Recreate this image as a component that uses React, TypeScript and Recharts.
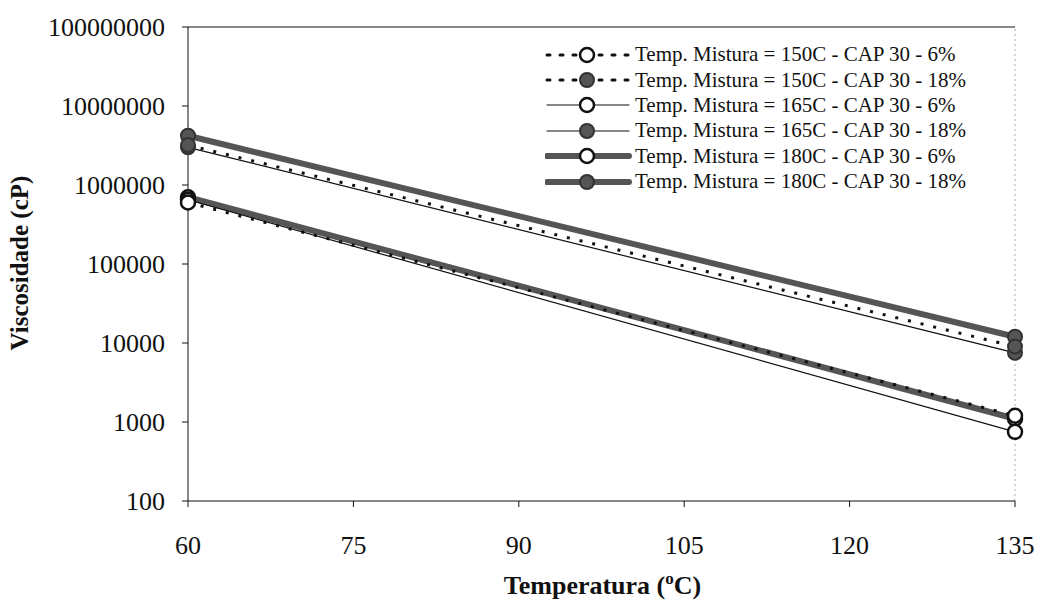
import React from "react";
import {
  Line,
  LineChart,
  ReferenceLine,
  XAxis,
  YAxis,
} from "recharts";

const temperatures = [60, 135];
const mix150cap6 = [600000, 1200];
const mix150cap18 = [3200000, 9000];
const mix165cap6 = [650000, 750];
const mix165cap18 = [3000000, 7500];
const mix180cap6 = [700000, 1100];
const mix180cap18 = [4200000, 12000];

const xTicks = [60, 75, 90, 105, 120, 135];
const yTicks = [100, 1000, 10000, 100000, 1000000, 10000000, 100000000];

const data = temperatures.map((t, i) => ({
  t,
  s1: mix150cap6[i],
  s2: mix150cap18[i],
  s3: mix165cap6[i],
  s4: mix165cap18[i],
  s5: mix180cap6[i],
  s6: mix180cap18[i],
}));

const FONT = "Liberation Serif, Times New Roman, serif";
const GRAY = "#555555";

interface SeriesStyle {
  key: string;
  name: string;
  stroke: string;
  width: number;
  dash?: string;
  filled: boolean;
}

// drawing order: thick lines first, dotted on top
const series: SeriesStyle[] = [
  { key: "s5", name: "Temp. Mistura = 180C - CAP 30 - 6%", stroke: GRAY, width: 6, filled: false },
  { key: "s6", name: "Temp. Mistura = 180C - CAP 30 - 18%", stroke: GRAY, width: 6, filled: true },
  { key: "s3", name: "Temp. Mistura = 165C - CAP 30 - 6%", stroke: "#111", width: 1.2, filled: false },
  { key: "s4", name: "Temp. Mistura = 165C - CAP 30 - 18%", stroke: "#111", width: 1.2, filled: true },
  { key: "s1", name: "Temp. Mistura = 150C - CAP 30 - 6%", stroke: "#111", width: 3, dash: "3 10", filled: false },
  { key: "s2", name: "Temp. Mistura = 150C - CAP 30 - 18%", stroke: "#111", width: 3, dash: "3 10", filled: true },
];

const legendOrder = ["s1", "s2", "s3", "s4", "s5", "s6"];

const dotFor = (s: SeriesStyle) =>
  s.filled
    ? { r: 7, fill: GRAY, stroke: "#333", strokeWidth: 2, strokeDasharray: "" }
    : { r: 7, fill: "#fff", stroke: "#111", strokeWidth: 2.5, strokeDasharray: "" };

function LegendBox() {
  return (
    <div
      style={{
        position: "absolute",
        left: 545,
        top: 42,
        fontFamily: FONT,
        fontSize: 21,
        color: "#111",
      }}
    >
      {legendOrder.map((k) => {
        const s = series.find((x) => x.key === k)!;
        const d = dotFor(s);
        return (
          <div
            key={k}
            style={{ display: "flex", alignItems: "center", height: 25.4 }}
          >
            <svg width={88} height={20} style={{ marginRight: 2 }}>
              <line
                x1={2}
                y1={10}
                x2={84}
                y2={10}
                stroke={s.stroke}
                strokeWidth={s.width}
                strokeDasharray={s.dash}
                strokeLinecap="round"
              />
              <circle
                cx={42}
                cy={10}
                r={d.r}
                fill={d.fill}
                stroke={d.stroke}
                strokeWidth={d.strokeWidth}
              />
            </svg>
            <span style={{ whiteSpace: "nowrap" }}>{s.name}</span>
          </div>
        );
      })}
    </div>
  );
}

export default function App() {
  return (
    <div
      style={{
        position: "absolute",
        left: 0,
        top: 0,
        width: 1037,
        height: 605,
        background: "#fff",
      }}
    >
      <LineChart
        width={1037}
        height={605}
        data={data}
        margin={{ top: 27, right: 22, left: 0, bottom: 0 }}
      >
        <XAxis
          dataKey="t"
          type="number"
          domain={[60, 135]}
          ticks={xTicks}
          tickSize={6}
          tickMargin={29}
          height={104}
          stroke="#111"
          tick={{ fill: "#111", fontSize: 26, fontFamily: FONT }}
          label={{
            content: ({ viewBox }: any) => (
              <text
                x={viewBox.x + viewBox.width / 2 + 1}
                y={viewBox.y + 93}
                textAnchor="middle"
                fontFamily={FONT}
                fontWeight="bold"
                fontSize={26}
                fill="#111"
              >
                <tspan>Temperatura (</tspan>
                <tspan dy={-10} fontSize={17}>o</tspan>
                <tspan dy={10}>C)</tspan>
              </text>
            ),
          }}
        />
        <YAxis
          scale="log"
          domain={[100, 100000000]}
          ticks={yTicks}
          allowDataOverflow
          width={188}
          tickSize={6}
          tickMargin={17}
          stroke="#111"
          tick={{ fill: "#111", fontSize: 26, fontFamily: FONT }}
          label={{
            content: ({ viewBox }: any) => {
              const cx = viewBox.x + 22;
              const cy = viewBox.y + viewBox.height / 2 - 1;
              return (
                <text
                  x={cx}
                  y={cy}
                  transform={`rotate(-90 ${cx} ${cy})`}
                  textAnchor="middle"
                  dominantBaseline="middle"
                  fontFamily={FONT}
                  fontWeight="bold"
                  fontSize={25}
                  fill="#111"
                >
                  Viscosidade (cP)
                </text>
              );
            },
          }}
        />
        <ReferenceLine y={100000000} stroke="#111" strokeWidth={1.2} />
        <ReferenceLine x={135} stroke="#aaa" strokeDasharray="2 3" />
        {series.map((s) => (
          <Line
            key={s.key}
            dataKey={s.key}
            name={s.name}
            type="linear"
            stroke={s.stroke}
            strokeWidth={s.width}
            strokeDasharray={s.dash}
            dot={dotFor(s)}
            activeDot={false}
            isAnimationActive={false}
          />
        ))}
      </LineChart>
      <LegendBox />
    </div>
  );
}
